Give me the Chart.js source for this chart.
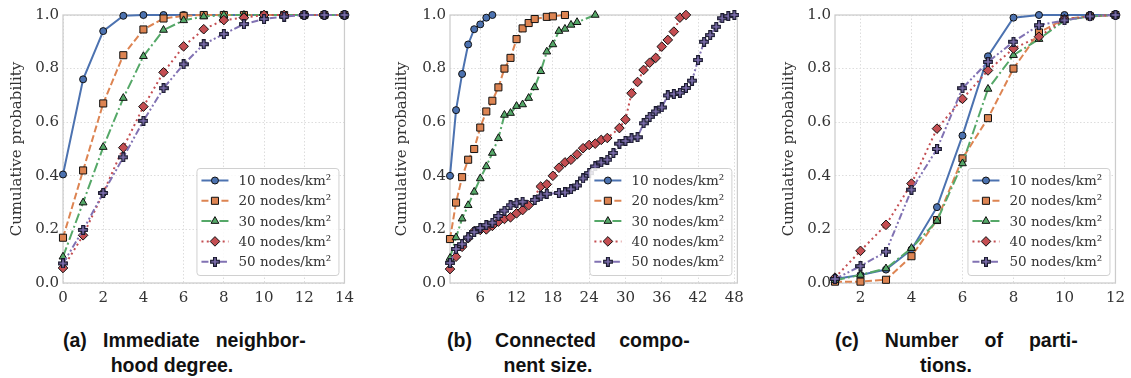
<!DOCTYPE html>
<html>
<head>
<meta charset="utf-8">
<script src="https://cdn.jsdelivr.net/npm/chart.js@4"></script>
<style>
  body { margin: 0; background: #fff; width: 1131px; height: 378px; position: relative; overflow: hidden; }
  .plot { position: absolute; top: 0; height: 310px; }
  .cap { position: absolute; font: bold 21px 'Liberation Sans', Arial, sans-serif; color: #111; white-space: nowrap; line-height: 24px; transform: scaleX(0.93); }
  .just { text-align: justify; text-align-last: justify; white-space: normal; width: 261px; top: 328px; transform-origin: 0 0; }
  .second { width: 200px; text-align: center; top: 353px; transform-origin: 50% 0; }
</style>
</head>
<body>
<div class="plot" style="left:0;width:360px"><canvas id="degreeChart"></canvas></div>
<div class="plot" style="left:370px;width:380px"><canvas id="compChart"></canvas></div>
<div class="plot" style="left:760px;width:371px"><canvas id="partChart"></canvas></div>

<div class="cap just" style="left:63px">(a) Immediate neighbor-</div>
<div class="cap second" style="left:72px">hood degree.</div>
<div class="cap just" style="left:447px">(b) Connected compo-</div>
<div class="cap second" style="left:448px">nent size.</div>
<div class="cap just" style="left:835px">(c) Number of parti-</div>
<div class="cap second" style="left:846px">tions.</div>

<script>
const labels = ['10 nodes/km²', '20 nodes/km²', '30 nodes/km²', '40 nodes/km²', '50 nodes/km²'];
const colors = ['#4c72b0', '#dd8452', '#55a868', '#c44e52', '#8172b3'];
const yTicks = [0, 0.2, 0.4, 0.6, 0.8, 1.0];

// (a) immediate neighborhood degree
const degreeX = [0, 1, 2, 3, 4, 5, 6, 7, 8, 9, 10, 11, 12, 13, 14];
const degree10 = [0.405, 0.76, 0.94, 0.997, 1, 1, 1, 1, 1, 1, 1, 1, 1, 1, 1];
const degree20 = [0.169, 0.42, 0.67, 0.85, 0.946, 0.987, 0.997, 1, 1, 1, 1, 1, 1, 1, 1];
const degree30 = [0.098, 0.30, 0.507, 0.69, 0.846, 0.944, 0.98, 0.994, 1, 1, 1, 1, 1, 1, 1];
const degree40 = [0.056, 0.178, 0.336, 0.505, 0.658, 0.786, 0.883, 0.947, 0.981, 0.99, 1, 1, 1, 1, 1];
const degree50 = [0.073, 0.198, 0.336, 0.469, 0.605, 0.727, 0.816, 0.891, 0.929, 0.966, 0.985, 0.994, 1, 1, 1];
const degreeTicks = [0, 2, 4, 6, 8, 10, 12, 14];

// (b) connected component size
const compX10 = [1, 2, 3, 4, 5, 6, 7, 8];
const comp10 = [0.40, 0.645, 0.78, 0.89, 0.947, 0.965, 0.99, 1.0];
const compX20 = [1, 2, 3, 4, 5, 6, 7, 8, 9, 10, 11, 12, 13, 14, 15, 17, 18, 20];
const comp20 = [0.164, 0.30, 0.395, 0.46, 0.50, 0.58, 0.64, 0.68, 0.73, 0.80, 0.84, 0.91, 0.95, 0.97, 0.985, 0.993, 0.995, 1.0];
const compX30 = [1, 2, 3, 4, 5, 6, 7, 8, 9, 10, 11, 12, 13, 14, 15, 16, 17, 18, 19, 20, 21, 22, 25];
const comp30 = [0.093, 0.17, 0.24, 0.29, 0.34, 0.39, 0.435, 0.485, 0.54, 0.627, 0.634, 0.66, 0.666, 0.69, 0.73, 0.79, 0.863, 0.89, 0.94, 0.948, 0.963, 0.973, 1.0];
const compX40 = [1, 2, 3, 4, 5, 6, 7, 8, 9, 10, 11, 12, 13, 14, 16, 17, 18, 19, 20, 21, 22, 23, 24, 25, 26, 27, 29, 30, 31, 32, 33, 34, 35, 36, 37, 38, 39, 40];
const comp40 = [0.052, 0.098, 0.135, 0.167, 0.194, 0.198, 0.20, 0.213, 0.229, 0.239, 0.245, 0.26, 0.272, 0.29, 0.36, 0.368, 0.40, 0.43, 0.45, 0.46, 0.48, 0.503, 0.515, 0.52, 0.534, 0.541, 0.578, 0.61, 0.708, 0.75, 0.795, 0.822, 0.84, 0.882, 0.907, 0.938, 0.99, 1.0];
const compX50 = [1, 2, 3, 4, 5, 6, 7, 8, 9, 10, 11, 12, 13, 15, 16, 17, 19, 20, 21, 22, 23, 24, 25, 26, 27, 28, 29, 30, 31, 32, 33, 34, 35, 36, 37, 38, 39, 40, 41, 42, 43, 44, 45, 46, 47, 48];
const comp50 = [0.075, 0.127, 0.145, 0.17, 0.19, 0.205, 0.216, 0.225, 0.25, 0.27, 0.29, 0.298, 0.303, 0.31, 0.323, 0.333, 0.336, 0.338, 0.35, 0.364, 0.39, 0.41, 0.435, 0.45, 0.46, 0.485, 0.52, 0.53, 0.54, 0.544, 0.596, 0.62, 0.64, 0.655, 0.70, 0.705, 0.71, 0.728, 0.755, 0.832, 0.90, 0.925, 0.956, 0.988, 0.996, 1.0];
const compTicks = [6, 12, 18, 24, 30, 36, 42, 48];

// (c) number of partitions
const partX = [1, 2, 3, 4, 5, 6, 7, 8, 9, 10, 11, 12];
const part10 = [0.015, 0.03, 0.05, 0.125, 0.283, 0.55, 0.846, 0.99, 1.0, 1.0, 1.0, 1.0];
const part20 = [0.005, 0.005, 0.012, 0.10, 0.235, 0.465, 0.615, 0.80, 0.935, 0.985, 0.995, 1.0];
const part30 = [0.01, 0.03, 0.054, 0.13, 0.232, 0.446, 0.724, 0.85, 0.91, 0.98, 0.995, 1.0];
const part40 = [0.02, 0.12, 0.217, 0.371, 0.576, 0.687, 0.793, 0.875, 0.919, 0.985, 0.995, 1.0];
const part50 = [0.015, 0.063, 0.117, 0.348, 0.50, 0.727, 0.825, 0.90, 0.962, 0.98, 0.995, 1.0];
const partTicks = [2, 4, 6, 8, 10, 12];

// filled plus marker like matplotlib 'P'
function plusMarker(color) {
    const c = document.createElement('canvas');
    c.width = 10; c.height = 10;
    const g = c.getContext('2d');
    const a = 1.4, b = 4.3, m = 5;
    g.beginPath();
    g.moveTo(m - a, m - b); g.lineTo(m + a, m - b); g.lineTo(m + a, m - a);
    g.lineTo(m + b, m - a); g.lineTo(m + b, m + a); g.lineTo(m + a, m + a);
    g.lineTo(m + a, m + b); g.lineTo(m - a, m + b); g.lineTo(m - a, m + a);
    g.lineTo(m - b, m + a); g.lineTo(m - b, m - a); g.lineTo(m - a, m - a);
    g.closePath();
    g.fillStyle = color; g.fill();
    g.lineWidth = 1.2; g.strokeStyle = '#1a1a2e'; g.stroke();
    return c;
}

const styles = [
    { pointStyle: 'circle', pointRadius: 3.5, borderDash: [] },
    { pointStyle: 'rect', pointRadius: 5, borderDash: [7, 3] },
    { pointStyle: 'triangle', pointRadius: 4.5, borderDash: [10, 3, 2, 3] },
    { pointStyle: 'rectRot', pointRadius: 4.8, borderDash: [2, 3.3] },
    { pointStyle: plusMarker(colors[4]), pointRadius: 5, borderDash: [7, 2.5, 2, 2.5, 2, 2.5] }
];

function makeDatasets(xs, ys) {
    return ys.map((vals, i) => ({
        label: labels[i],
        data: vals.map((v, j) => ({ x: xs[i][j], y: v })),
        borderColor: colors[i],
        backgroundColor: colors[i],
        pointBackgroundColor: colors[i],
        pointBorderColor: '#111',
        pointBorderWidth: 1,
        borderWidth: 2,
        borderDash: styles[i].borderDash,
        pointStyle: styles[i].pointStyle,
        pointRadius: styles[i].pointRadius,
        tension: 0,
        clip: false,
        order: 5 - i
    }));
}

const framePlugin = {
    id: 'frame',
    beforeDatasetsDraw(chart) {
        const { ctx, chartArea: a } = chart;
        ctx.save();
        ctx.strokeStyle = '#cccccc';
        ctx.lineWidth = 1.25;
        ctx.strokeRect(a.left, a.top, a.right - a.left, a.bottom - a.top);
        ctx.restore();
    }
};

const legendPlugin = {
    id: 'boxLegend',
    afterDatasetsDraw(chart) {
        const { ctx, chartArea: a } = chart;
        const w = 142, h = 107;
        const x0 = a.right - w - 6, y0 = a.bottom - h - 8;
        ctx.save();
        ctx.beginPath();
        ctx.roundRect(x0 + 0.5, y0 + 0.5, w, h, 3);
        ctx.fillStyle = 'rgba(255,255,255,0.85)';
        ctx.fill();
        ctx.strokeStyle = '#d0d0d0';
        ctx.lineWidth = 1;
        ctx.stroke();
        chart.data.datasets.forEach((ds, i) => {
            const y = y0 + 12.5 + i * 20.3;
            ctx.save();
            ctx.strokeStyle = ds.borderColor;
            ctx.lineWidth = 2;
            ctx.setLineDash(ds.borderDash);
            ctx.beginPath();
            ctx.moveTo(x0 + 5, y);
            ctx.lineTo(x0 + 32, y);
            ctx.stroke();
            ctx.restore();
            ctx.fillStyle = ds.pointBackgroundColor;
            ctx.strokeStyle = '#111';
            ctx.lineWidth = 1;
            Chart.helpers.drawPoint(ctx, { pointStyle: ds.pointStyle, radius: ds.pointRadius, rotation: 0, borderWidth: 1 }, x0 + 18.5, y);
            ctx.fillStyle = '#333';
            ctx.font = '13.5px "DejaVu Serif"';
            ctx.textBaseline = 'middle';
            ctx.fillText(ds.label, x0 + 42, y + 1);
        });
        ctx.restore();
    }
};

function makeChart(id, xs, ys, xMin, xMax, xTicks, axisWidth, padRight, titlePad) {
    const tickFont = { family: 'DejaVu Serif', size: 15 };
    return new Chart(document.getElementById(id), {
        type: 'line',
        data: { datasets: makeDatasets(xs, ys) },
        options: {
            responsive: false,
            animation: false,
            events: [],
            layout: { padding: { top: 15, right: padRight, left: 0, bottom: 0 } },
            plugins: { legend: { display: false }, tooltip: { enabled: false } },
            scales: {
                x: {
                    type: 'linear', min: xMin, max: xMax,
                    afterBuildTicks: s => { s.ticks = xTicks.map(v => ({ value: v })); },
                    afterFit: s => { s.height = 27; },
                    grid: { color: '#dddddd', lineWidth: 1, drawTicks: false },
                    border: { display: false, dash: [1.5, 2] },
                    ticks: { font: tickFont, color: '#333', padding: 6, maxRotation: 0, autoSkip: false, callback: v => v }
                },
                y: {
                    min: 0, max: 1,
                    afterBuildTicks: s => { s.ticks = yTicks.map(v => ({ value: v })); },
                    afterFit: s => { s.width = axisWidth; },
                    grid: { color: '#dddddd', lineWidth: 1, drawTicks: false },
                    border: { display: false, dash: [1.5, 2] },
                    ticks: { font: tickFont, color: '#333', padding: 4, callback: v => v.toFixed(1) },
                    title: { display: true, text: 'Cumulative probability', color: '#333', font: { family: 'DejaVu Serif', size: 15 }, padding: { top: titlePad, bottom: 0 } }
                }
            }
        },
        plugins: [framePlugin, legendPlugin]
    });
}

function sizeCanvas(id, w) {
    const c = document.getElementById(id);
    c.width = w; c.height = 310;
    c.style.width = w + 'px'; c.style.height = '310px';
}
sizeCanvas('degreeChart', 360);
sizeCanvas('compChart', 380);
sizeCanvas('partChart', 371);

makeChart('degreeChart', [degreeX, degreeX, degreeX, degreeX, degreeX],
    [degree10, degree20, degree30, degree40, degree50], 0, 14, degreeTicks, 63, 12, 8);
makeChart('compChart', [compX10, compX20, compX30, compX40, compX50],
    [comp10, comp20, comp30, comp40, comp50], 1, 48.5, compTicks, 80, 10, 23);
makeChart('partChart', [partX, partX, partX, partX, partX],
    [part10, part20, part30, part40, part50], 1, 12, partTicks, 75, 12, 20);
</script>
</body>
</html>
